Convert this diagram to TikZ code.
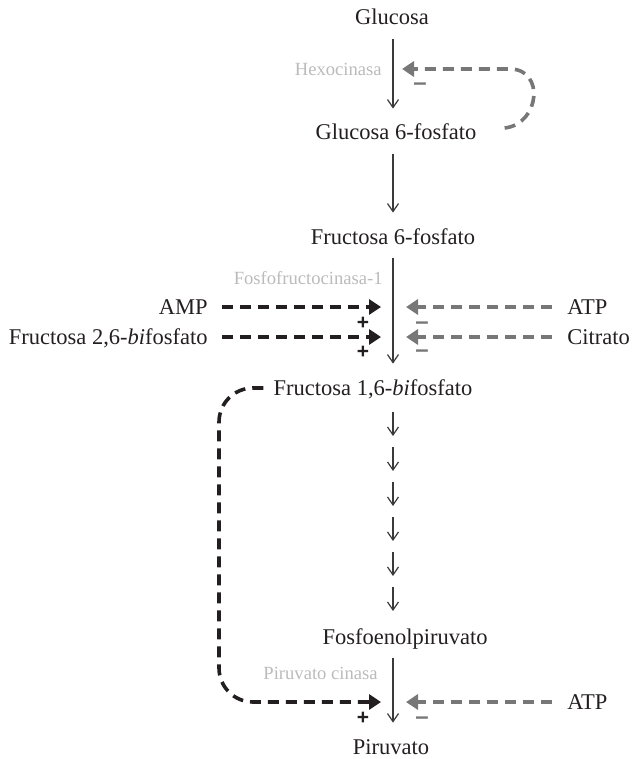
\documentclass[tikz,border=0pt]{standalone}
\usepackage{fontspec}
\setmainfont{Liberation Serif}
\newfontfamily\signos{Liberation Sans}
\usetikzlibrary{arrows.meta}
\definecolor{negro}{HTML}{231F20}
\definecolor{gris}{HTML}{777777}
\definecolor{grisclaro}{HTML}{BBBBBB}
\definecolor{trazo}{HTML}{3A3A3A}

\begin{document}
\begin{tikzpicture}[x=0.5pt, y=-0.5pt,
        metab/.style={inner sep=0pt, text height=7.5pt, text depth=0.5pt, font=\fontsize{11.25}{13}\selectfont, text=negro},
        enzima/.style={inner sep=0pt, anchor=east, font=\fontsize{9.3}{11}\selectfont, text=grisclaro},
        paso/.style={-{Straight Barb[length=4pt, width=5.5pt]}, line width=0.6pt, trazo},
        reaccion/.style={paso, shorten <=6.5pt, shorten >=8pt},
        activa/.style={-{Triangle[length=6pt, width=7.5pt]}, line width=1.8pt, dash pattern=on 5.5pt off 3.5pt, negro},
        inhibe/.style={activa, gris},
        mas/.style={inner sep=0pt, font=\signos\bfseries\fontsize{10.5}{10}\selectfont, text=negro},
        menos/.style={mas, font=\signos\bfseries\fontsize{12}{10}\selectfont, text=gris}]
        \useasboundingbox (0,0) rectangle (631,759);
        % via principal
        \node[metab] (glc)   at (392,18)  {Glucosa};
        \node[metab] (g6p)   at (396,133) {Glucosa 6-fosfato};
        \node[metab] (f6p)   at (393,237) {Fructosa 6-fosfato};
        \node[metab] (f16bp) at (373,388) {Fructosa 1,6-\textit{bi}fosfato};
        \node[metab] (pep)   at (405,637) {Fosfoenolpiruvato};
        \node[metab] (pyr)   at (391,747) {Piruvato};
        \node[enzima] (hk)  at (382,69)  {Hexocinasa};
        \node[enzima] (pfk) at (383,278) {Fosfofructocinasa-1};
        \node[enzima] (pk)  at (378,673) {Piruvato cinasa};
        \coordinate (eje) at (393,0);
        \draw[reaccion] (glc.south -| eje) -- (g6p.north -| eje);
        \draw[reaccion] (g6p.south -| eje) -- (f6p.north -| eje);
        \draw[reaccion] (f6p.south -| eje) -- (f16bp.north -| eje);
        \draw[reaccion] (pep.south -| eje) -- (pyr.north -| eje);
        \foreach \i in {0,...,5} {
            \coordinate (a\i) at (393,412+35*\i);
            \coordinate (b\i) at (393,436+35*\i);
            \draw[paso] (a\i) -- (b\i);
        }
        % reguladores
        \node[metab, anchor=east] (amp)   at (208,307) {AMP};
        \node[metab, anchor=east] (f26bp) at (208,337) {Fructosa 2,6-\textit{bi}fosfato};
        \node[metab, anchor=west] (atpa)  at (567,307) {ATP};
        \node[metab, anchor=west] (cit)   at (567,337) {Citrato};
        \node[metab, anchor=west] (atpb)  at (567,702) {ATP};
        \coordinate (izq) at (381,0);
        \coordinate (der) at (406,0);
        \coordinate (hx) at (402,69);
        \coordinate (bucle) at (219,702);
        \draw[activa, shorten <=7pt] (amp.east) -- (amp.east -| izq);
        \draw[activa, shorten <=7pt] (f26bp.east) -- (f26bp.east -| izq);
        \draw[inhibe, shorten <=7.5pt] (atpa.west) -- (atpa.west -| der);
        \draw[inhibe, shorten <=7.5pt] (cit.west) -- (cit.west -| der);
        \draw[inhibe, shorten <=7.5pt] (atpb.west) -- (atpb.west -| der);
        \draw[activa, rounded corners=17pt, shorten <=5pt] (f16bp.west) -| (bucle) -- (bucle -| izq);
        \draw[inhibe] ([xshift=14pt, yshift=2.5pt]g6p.east) .. controls (540,124) and (545,69) .. (510,69) -- (hx);
        % signos
        \node[mas] (p1) at (363,323) {+};
        \node[mas] (p2) at (363,352) {+};
        \node[mas] (p3) at (363,718) {+};
        \node[menos] (m0) at (420,87)  {–};
        \node[menos] (m1) at (422,326) {–};
        \node[menos] (m2) at (422,354) {–};
        \node[menos] (m3) at (422,721) {–};
    \end{tikzpicture}
\end{document}
